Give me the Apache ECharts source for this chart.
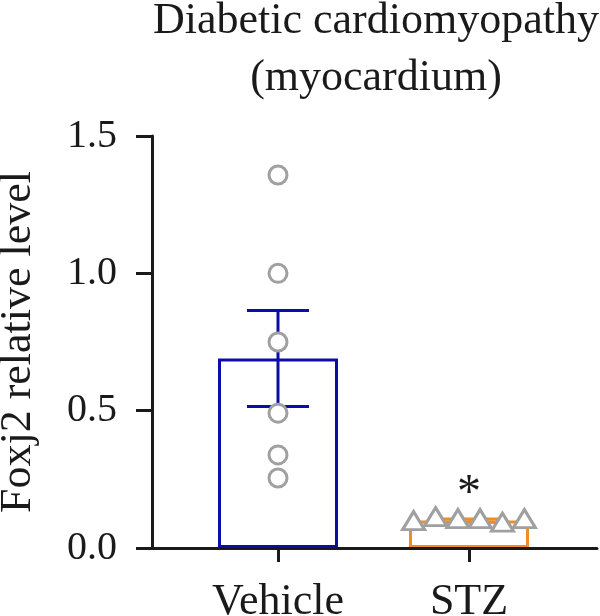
<!DOCTYPE html>
<html>
<head>
<meta charset="utf-8">
<script src="https://cdn.jsdelivr.net/npm/echarts@6/dist/echarts.min.js"></script>
<style>
  html, body { margin: 0; padding: 0; background: #fff; }
  #chart { width: 600px; height: 616px; }
</style>
</head>
<body>
<div id="chart"></div>
<script>
// data
const categories = ["Vehicle", "STZ"];
const barMeans = [0.69, 0.10];
const barSems = [0.175, 0.006];
const vehiclePoints = [1.358, 1.0, 0.75, 0.491, 0.339, 0.255];
const stzPoints = [0.100, 0.114, 0.107, 0.107, 0.094, 0.107];
const stzJitter = [-0.29, -0.175, -0.058, 0.058, 0.175, 0.29];
const yTicks = [0, 0.5, 1.0, 1.5];

const FONT = "Liberation Serif";
const BLUE = "#0c0ca6";
const ORANGE = "#f28c1e";
const GREY = "#a0a0a0";
const INK = "#1a1a1a";
const barColors = [BLUE, ORANGE];

const chart = echarts.init(document.getElementById("chart"));

const catX = categories.map((c, i) => i + 1);

function renderErrorBar(params, api) {
  const x = api.value(0);
  const lo = api.coord([x, api.value(1)]);
  const hi = api.coord([x, api.value(2)]);
  const half = 31;
  const style = { stroke: barColors[params.dataIndex], lineWidth: 3 };
  return {
    type: "group",
    children: [
      { type: "line", shape: { x1: lo[0], y1: lo[1], x2: hi[0], y2: hi[1] }, style },
      { type: "line", shape: { x1: hi[0] - half, y1: hi[1], x2: hi[0] + half, y2: hi[1] }, style },
      { type: "line", shape: { x1: lo[0] - half, y1: lo[1], x2: lo[0] + half, y2: lo[1] }, style }
    ]
  };
}

chart.setOption({
  animation: false,
  title: {
    text: "Diabetic cardiomyopathy\n(myocardium)",
    left: 371,
    top: -12,
    textAlign: "center",
    textStyle: { fontFamily: FONT, fontSize: 44, fontWeight: "normal", color: INK, lineHeight: 57 }
  },
  grid: { left: 152, right: 3, top: 136, bottom: 68, outerBoundsMode: "none" },
  xAxis: {
    type: "value",
    min: 1 - 126 / 191,
    max: 2 + 128 / 191,
    z: 5,
    splitLine: { show: false },
    axisLine: { lineStyle: { color: INK, width: 3 } },
    axisTick: { customValues: catX, length: 14, lineStyle: { color: INK, width: 3 } },
    axisLabel: {
      customValues: catX,
      margin: 32,
      formatter: v => categories[Math.round(v) - 1],
      fontFamily: FONT, fontSize: 44, color: INK
    }
  },
  yAxis: {
    type: "value",
    min: yTicks[0],
    max: yTicks[yTicks.length - 1],
    interval: 0.5,
    z: 5,
    name: "Foxj2 relative level",
    nameLocation: "middle",
    nameRotate: 90,
    nameGap: 112,
    nameTextStyle: { fontFamily: FONT, fontSize: 44, color: INK },
    splitLine: { show: false },
    axisLine: { show: true, lineStyle: { color: INK, width: 3 } },
    axisTick: { show: true, length: 16, lineStyle: { color: INK, width: 3 } },
    axisLabel: {
      margin: 35,
      formatter: v => v.toFixed(1),
      fontFamily: FONT, fontSize: 40, color: INK
    }
  },
  series: [
    {
      type: "bar",
      barWidth: 120,
      z: 2,
      data: barMeans.map((m, i) => ({
        value: [catX[i], m],
        itemStyle: { color: "#fff", borderColor: barColors[i], borderWidth: 3 },
        label: i === 1
          ? { show: true, position: "top", distance: 2, formatter: "*", fontFamily: FONT, fontSize: 48, color: INK }
          : { show: false }
      }))
    },
    {
      type: "custom",
      z: 3,
      renderItem: renderErrorBar,
      data: barMeans.map((m, i) => [catX[i], m - barSems[i], m + barSems[i]])
    },
    {
      type: "scatter",
      z: 4,
      symbol: "circle",
      symbolSize: 18,
      itemStyle: { color: "#fff", borderColor: GREY, borderWidth: 3, opacity: 1 },
      data: vehiclePoints.map(v => [catX[0], v])
    },
    {
      type: "scatter",
      z: 4,
      symbol: "triangle",
      symbolSize: [22, 18],
      itemStyle: { color: "#fff", borderColor: GREY, borderWidth: 3, opacity: 1 },
      data: stzPoints.map((v, i) => [catX[1] + stzJitter[i], v])
    }
  ]
});
</script>
</body>
</html>
